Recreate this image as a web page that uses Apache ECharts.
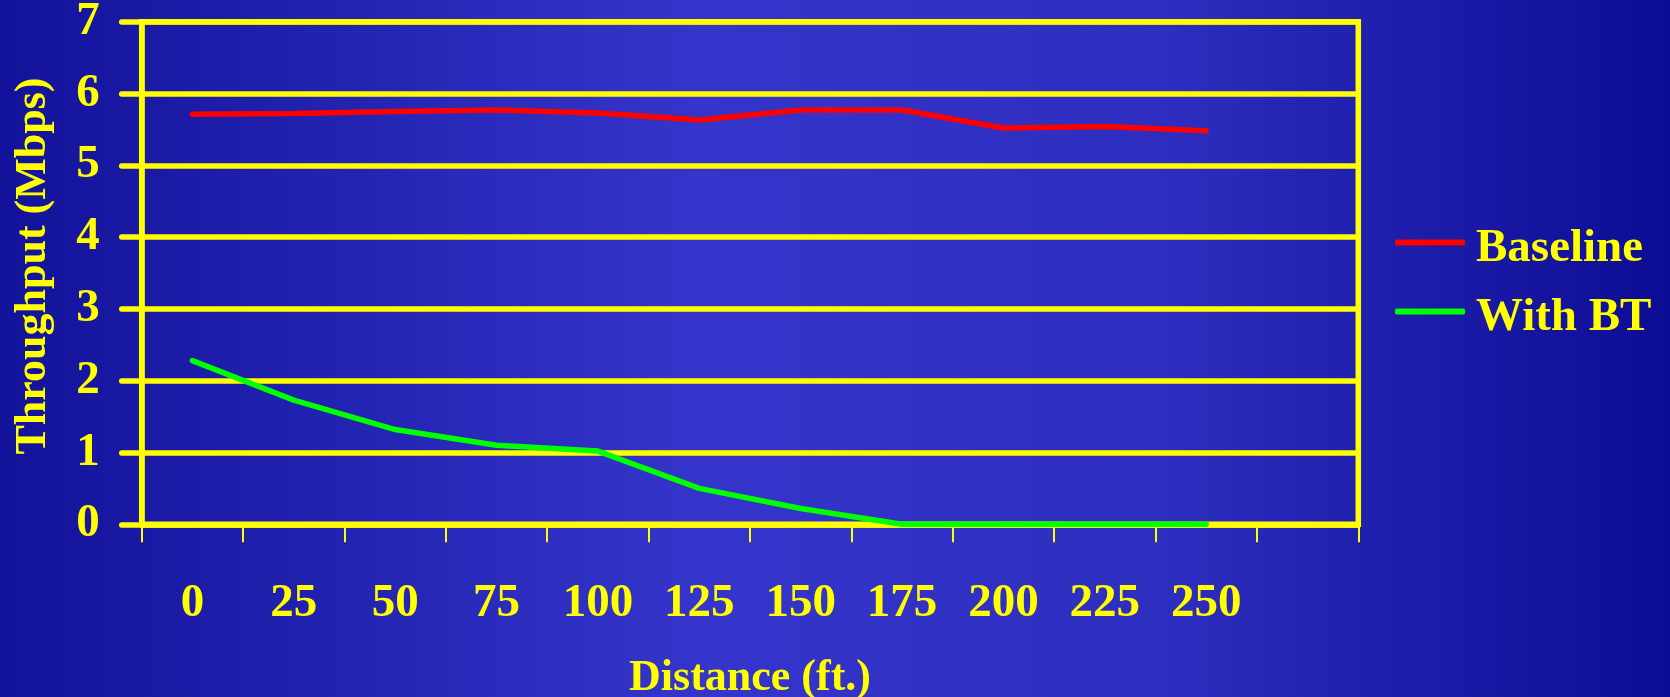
<!DOCTYPE html>
<html>
<head>
<meta charset="utf-8">
<title>Throughput vs Distance</title>
<script src="https://cdn.jsdelivr.net/npm/echarts@6/dist/echarts.min.js"></script>
<style>
  html, body { margin: 0; padding: 0; }
  #chart { width: 1670px; height: 697px; }
</style>
</head>
<body>
<div id="chart"></div>
<script>
// Distance categories (ft.); the trailing slot is an empty category
const distances = ['0', '25', '50', '75', '100', '125', '150', '175', '200', '225', '250', ''];
// Throughput in Mbps
const baseline = [5.71, 5.72, 5.75, 5.77, 5.73, 5.63, 5.77, 5.77, 5.52, 5.54, 5.48, null];
const withBT   = [2.28, 1.73, 1.32, 1.10, 1.02, 0.50, 0.22, 0, 0, 0, 0, null];
const yTicks = [0, 1, 2, 3, 4, 5, 6, 7];

const YELLOW = '#ffff00';
const FONT = "'Liberation Serif', 'Times New Roman', serif";

const chart = echarts.init(document.getElementById('chart'));
chart.setOption({
  animation: false,
  backgroundColor: {
    type: 'linear', x: 0, y: 0, x2: 1, y2: 0,
    colorStops: [
      { offset: 0, color: '#12129a' },
      { offset: 0.42, color: '#3535cb' },
      { offset: 0.7, color: '#2d2dbf' },
      { offset: 1, color: '#0c0c94' }
    ]
  },
  grid: {
    left: 141.7, right: 311.7, top: 21.7, bottom: 172.7,
    outerBoundsMode: 'none',
    containLabel: false,
    show: true, borderColor: YELLOW, borderWidth: 5.5, backgroundColor: 'transparent'
  },
  legend: {
    orient: 'vertical',
    left: 1395, top: 213,
    padding: 0,
    icon: 'roundRect',
    itemWidth: 70, itemHeight: 6, itemGap: 10,
    formatter: '{t|{name}}',
    textStyle: {
      color: YELLOW, fontFamily: FONT, fontWeight: 'bold', fontSize: 47,
      rich: {
        t: { color: YELLOW, fontFamily: FONT, fontWeight: 'bold', fontSize: 47, lineHeight: 47, padding: [12, 0, 0, 6] }
      }
    },
    data: ['Baseline', 'With BT']
  },
  xAxis: {
    type: 'category',
    data: distances,
    boundaryGap: true,
    name: 'Distance (ft.)',
    nameLocation: 'middle',
    nameGap: 132,
    nameTextStyle: { color: YELLOW, fontFamily: FONT, fontWeight: 'bold', fontSize: 44 },
    axisLine: { lineStyle: { color: YELLOW, width: 5.5, cap: 'round' } },
    axisTick: { show: true, length: 18, lineStyle: { color: YELLOW, width: 2 } },
    axisLabel: { interval: 0, margin: 56, color: YELLOW, fontFamily: FONT, fontWeight: 'bold', fontSize: 47, lineHeight: 47 },
    splitLine: { show: false }
  },
  yAxis: {
    type: 'value',
    min: yTicks[0], max: yTicks[yTicks.length - 1], interval: 1,
    name: 'Throughput (Mbps)',
    nameLocation: 'middle',
    nameGap: 86,
    nameTextStyle: { color: YELLOW, fontFamily: FONT, fontWeight: 'bold', fontSize: 44, padding: [0, 0, 0, 14] },
    axisLine: { show: true, lineStyle: { color: YELLOW, width: 5.5 } },
    axisTick: { show: true, length: 20, lineStyle: { color: YELLOW, width: 5.5, cap: 'round' } },
    axisLabel: { margin: 42, color: YELLOW, fontFamily: FONT, fontWeight: 'bold', fontSize: 47 },
    splitLine: { show: true, lineStyle: { color: YELLOW, width: 5.5 } }
  },
  series: [
    {
      name: 'Baseline', type: 'line', data: baseline,
      symbol: 'none', color: '#ff0000',
      lineStyle: { color: '#ff0000', width: 5.5, cap: 'round' }
    },
    {
      name: 'With BT', type: 'line', data: withBT,
      symbol: 'none', color: '#00ff00',
      lineStyle: { color: '#00ff00', width: 5.5, cap: 'round' }
    }
  ]
});
</script>
</body>
</html>
